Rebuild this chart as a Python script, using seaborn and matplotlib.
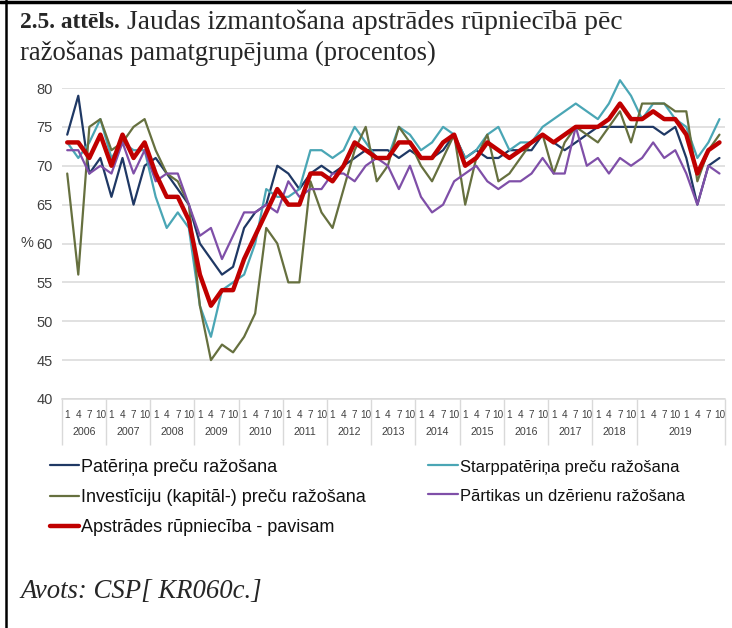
import numpy as np
import pandas as pd
import matplotlib
matplotlib.use("Agg")
import matplotlib.pyplot as plt
import matplotlib.transforms as mtransforms
from matplotlib.lines import Line2D
import seaborn as sns

# ---------------- data ----------------
years = ["2006", "2007", "2008", "2009", "2010", "2011", "2012", "2013",
         "2014", "2015", "2016", "2017", "2018", "2019"]
year_quarters = [4, 4, 4, 4, 4, 4, 4, 4, 4, 4, 4, 4, 4, 8]
quarter_labels = ["1", "4", "7", "10"]

pateriņa = [74, 79, 69, 71, 66, 71, 65, 70, 71, 69, 67, 65,
            60, 58, 56, 57, 62, 64, 65, 70, 69, 67, 69, 70,
            69, 70, 71, 72, 72, 72, 71, 72, 71, 71, 72, 74,
            71, 72, 71, 71, 72, 72, 72, 74, 73, 72, 73, 74,
            75, 75, 75, 75, 75, 75, 74, 75, 71, 65, 70, 71]
starppateriņa = [73, 71, 73, 76, 71, 73, 72, 72, 66, 62, 64, 62,
                 52, 48, 54, 55, 56, 60, 67, 66, 66, 67, 72, 72,
                 71, 72, 75, 73, 71, 71, 75, 74, 72, 73, 75, 74,
                 71, 72, 74, 75, 72, 73, 73, 75, 76, 77, 78, 77,
                 76, 78, 81, 79, 76, 78, 78, 76, 75, 71, 73, 76]
investiciju = [69, 56, 75, 76, 72, 73, 75, 76, 72, 69, 68, 65,
               52, 45, 47, 46, 48, 51, 62, 60, 55, 55, 68, 64,
               62, 67, 72, 75, 68, 70, 75, 73, 70, 68, 71, 74,
               65, 71, 74, 68, 69, 71, 73, 74, 69, 73, 75, 74,
               73, 75, 77, 73, 78, 78, 78, 77, 77, 68, 72, 74]
partikas = [72, 72, 69, 70, 69, 73, 69, 72, 68, 69, 69, 65,
            61, 62, 58, 61, 64, 64, 65, 64, 68, 66, 67, 67,
            69, 69, 68, 70, 71, 70, 67, 70, 66, 64, 65, 68,
            69, 70, 68, 67, 68, 68, 69, 71, 69, 69, 75, 70,
            71, 69, 71, 70, 71, 73, 71, 72, 69, 65, 70, 69]
apstrades = [73, 73, 71, 74, 70, 74, 71, 73, 69, 66, 66, 63,
             56, 52, 54, 54, 58, 61, 64, 67, 65, 65, 69, 69,
             68, 70, 73, 72, 71, 71, 73, 73, 71, 71, 73, 74,
             70, 71, 73, 72, 71, 72, 73, 74, 73, 74, 75, 75,
             75, 76, 78, 76, 76, 77, 76, 76, 74, 69, 72, 73]

series_names = ["Patēriņa preču ražošana",
                "Starppatēriņa preču ražošana",
                "Investīciju (kapitāl-) preču ražošana",
                "Pārtikas un dzērienu ražošana",
                "Apstrādes rūpniecība - pavisam"]
series_values = [pateriņa, starppateriņa, investiciju, partikas, apstrades]
series_colors = ["#1F3864", "#4AA6B5", "#66703F", "#7F4FA8", "#C00000"]
series_widths = [1.6, 1.6, 1.6, 1.6, 3.2]

n = len(apstrades)
idx = np.arange(n)
frames = []
for name, vals in zip(series_names, series_values):
    frames.append(pd.DataFrame({"t": idx, "value": vals, "series": name}))
df = pd.concat(frames, ignore_index=True)

# ---------------- figure ----------------
sns.set_theme(style="white")
plt.rcParams["font.family"] = ["Liberation Sans", "DejaVu Sans"]

fig = plt.figure(figsize=(7.32, 6.28), dpi=100)
W, H = 732, 628
ax_left, ax_right, ax_top, ax_bottom = 61.7, 725.0, 88.0, 399.0
ax = fig.add_axes([ax_left / W, 1 - ax_bottom / H,
                   (ax_right - ax_left) / W, (ax_bottom - ax_top) / H])

for name, col, lw in zip(series_names, series_colors, series_widths):
    sub = df[df["series"] == name]
    sns.lineplot(data=sub, x="t", y="value", ax=ax, color=col,
                 linewidth=lw, legend=False, zorder=3 if lw > 2 else 2)
for ln in ax.get_lines():
    ln.set_clip_on(False)

ax.set_xlim(-0.5, n - 0.5)
ax.set_ylim(40, 80)
ax.set_yticks(np.arange(40, 81, 5))
ax.set_yticklabels([str(v) for v in range(40, 81, 5)],
                   fontsize=10.5, color="#404040")
ax.tick_params(axis="y", length=0, pad=6.5)
ax.yaxis.grid(True, color="#D9D9D9", linewidth=1.1)
ax.set_axisbelow(True)
for s in ["top", "right", "left"]:
    ax.spines[s].set_visible(False)
ax.spines["bottom"].set_color("#D9D9D9")
ax.spines["bottom"].set_linewidth(1.1)
ax.set_xlabel("")
ax.set_ylabel("")

# quarter tick labels
qlabels = []
for yq in year_quarters:
    for k in range(yq):
        qlabels.append(quarter_labels[k % 4])
ax.set_xticks(idx)
ax.set_xticklabels(qlabels, fontsize=7.2, color="#404040")
ax.tick_params(axis="x", length=0, pad=8)

# year separators and labels
trans = mtransforms.blended_transform_factory(ax.transData, ax.transAxes)
bounds = np.concatenate([[0], np.cumsum(year_quarters)]) - 0.5
ax.vlines(bounds, -0.148, 0, transform=trans, colors="#D9D9D9",
          linewidth=1.0, clip_on=False)
for yl, b0, b1 in zip(years, bounds[:-1], bounds[1:]):
    ax.text((b0 + b1) / 2, -0.107, yl, transform=trans, ha="center",
            va="center", fontsize=7.7, color="#404040")

fig.text(27 / W, 1 - 243 / H, "%", ha="center", va="center",
         fontsize=10.5, color="#404040")

# legend (row-wise order via column-wise fill)
handles = [Line2D([], [], color=c, linewidth=(3.2 if w > 2 else 1.6))
           for c, w in zip(series_colors, series_widths)]
order = [0, 2, 4, 1, 3]
leg = fig.legend([handles[i] for i in order], [series_names[i] for i in order],
                 ncol=2, loc="upper left",
                 bbox_to_anchor=(37 / W, 1 - 446 / H),
                 frameon=False, fontsize=13, handlelength=1.65,
                 handletextpad=0.1, columnspacing=3.45, labelspacing=0.74,
                 borderpad=0.2)
legend_texts = leg.get_texts()
for t in legend_texts:
    t.set_color("#111111")
for t in legend_texts[3:]:
    t.set_fontsize(11.9)

# title
serif = ["Liberation Serif", "DejaVu Serif"]
fig.text(20 / W, 1 - 22 / H, "2.5. attēls.", fontsize=16.8, fontweight="bold",
         family=serif, va="center", ha="left")
fig.text(127 / W, 1 - 22 / H, "Jaudas izmantošana apstrādes rūpniecībā pēc",
         fontsize=19.8, family=serif, va="center", ha="left")
fig.text(20 / W, 1 - 53 / H, "ražošanas pamatgrupējuma (procentos)",
         fontsize=19.2, family=serif, va="center", ha="left")

fig.text(20 / W, 1 - 592 / H, "Avots: CSP[ KR060c.]", fontsize=19.3,
         family=serif, style="italic", va="center", ha="left")

# frame lines
fig.add_artist(Line2D([0, 1], [1 - 1.5 / H, 1 - 1.5 / H], color="black",
                      linewidth=2.5, transform=fig.transFigure))
fig.add_artist(Line2D([5.5 / W, 5.5 / W], [0, 1], color="black",
                      linewidth=1.8, transform=fig.transFigure))

fig.savefig("out.png", dpi=100)
